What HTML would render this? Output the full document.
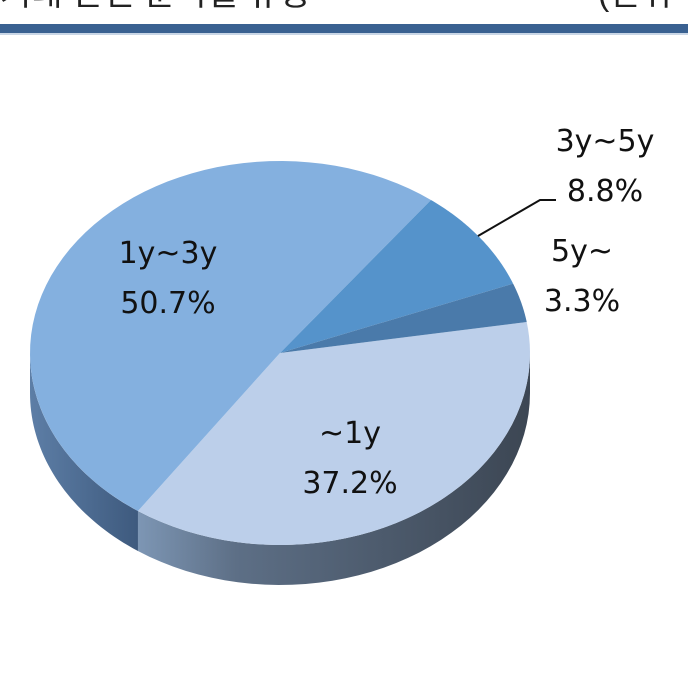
<!DOCTYPE html>
<html><head><meta charset="utf-8"><style>
body{margin:0;background:#fff;width:688px;height:694px;overflow:hidden;font-family:"Liberation Sans","Noto Sans CJK KR",sans-serif}
</style></head><body>
<svg id="chart" width="688" height="694" viewBox="0 0 688 694" xmlns="http://www.w3.org/2000/svg">
<defs>
<linearGradient id="sideGrad" x1="0" y1="0" x2="1" y2="0">
<stop offset="0" stop-color="#7d96b4"/><stop offset="0.25" stop-color="#5d6f86"/><stop offset="1" stop-color="#3c4653"/>
</linearGradient>
<linearGradient id="sideGradL" x1="0" y1="0" x2="1" y2="0">
<stop offset="0" stop-color="#5d7ea6"/><stop offset="1" stop-color="#3e5a7e"/>
</linearGradient>
</defs>
<text x="0" y="5" font-size="34" fill="#222">거래 관련 분석별 유형</text>
<text x="598" y="5" font-size="34" fill="#222">(단위</text>
<rect x="0" y="24" width="688" height="9" fill="#3a6191"/>
<rect x="0" y="33" width="688" height="2" fill="#c9d6e6"/>
<g id="pie"></g>
<g id="labels"></g>
</svg>
<script>
const categories = ["~1y", "1y~3y", "3y~5y", "5y~"];
const values = [37.2, 50.7, 8.8, 3.3];
const valueLabels = ["37.2%", "50.7%", "8.8%", "3.3%"];
const colors = ["#bccfea", "#84b0df", "#5593cb", "#4a7aaa"];
const NS = "http://www.w3.org/2000/svg";
const cx = 280, cy = 353, rx = 250, ry = 192, depth = 40, startDeg = -9.3;
const pie = document.getElementById('pie');
const total = values.reduce((a,b)=>a+b,0);
function pt(deg, dy){const r=deg*Math.PI/180;return [cx+rx*Math.cos(r), cy+ry*Math.sin(r)+(dy||0)];}
let a = startDeg;
const slices = values.map(v=>{const s=a; a+=v/total*360; return [s,a];});
slices.forEach(([s,e],i)=>{
  const s2=Math.max(s,0), e2=Math.min(e,180);
  if(e2<=s2) return;
  let d="";
  const n=40;
  for(let k=0;k<=n;k++){const p=pt(s2+(e2-s2)*k/n);d+=(k?"L":"M")+p[0]+","+p[1];}
  for(let k=n;k>=0;k--){const p=pt(s2+(e2-s2)*k/n,depth);d+="L"+p[0]+","+p[1];}
  const path=document.createElementNS(NS,'path');
  path.setAttribute('d',d+"Z");
  path.setAttribute('fill', s2>=120?'url(#sideGradL)':'url(#sideGrad)');
  
  
  pie.appendChild(path);
});
slices.forEach(([s,e],i)=>{
  let d="M"+cx+","+cy;
  const n=60;
  for(let k=0;k<=n;k++){const p=pt(s+(e-s)*k/n);d+="L"+p[0]+","+p[1];}
  const path=document.createElementNS(NS,'path');
  path.setAttribute('d',d+"Z");
  path.setAttribute('fill',colors[i]);
  
  
  pie.appendChild(path);
});
const labelPos=[[350,432],[168,252],[605,140],[582,250]];
const lg=document.getElementById('labels');
categories.forEach((c,i)=>{
  const [x,y]=labelPos[i];
  const t=document.createElementNS(NS,'text');
  t.setAttribute('x',x);t.setAttribute('y',y+11);
  t.setAttribute('text-anchor','middle');t.setAttribute('font-size','30');t.setAttribute('fill','#111');
  t.setAttribute('font-family','"DejaVu Sans", sans-serif');
  
  
  t.textContent=c; lg.appendChild(t);
  const t2=document.createElementNS(NS,'text');
  t2.setAttribute('x',x);t2.setAttribute('y',y+61);
  t2.setAttribute('text-anchor','middle');t2.setAttribute('font-size','30');t2.setAttribute('fill','#111');
  t2.setAttribute('font-family','"DejaVu Sans", sans-serif');
  
  
  t2.textContent=valueLabels[i]; lg.appendChild(t2);
});
const line=document.createElementNS(NS,'polyline');
line.setAttribute('points','478,236 540,200 556,200');
line.setAttribute('fill','none');line.setAttribute('stroke','#111');line.setAttribute('stroke-width','2');


lg.appendChild(line);
</script>
</body></html>
